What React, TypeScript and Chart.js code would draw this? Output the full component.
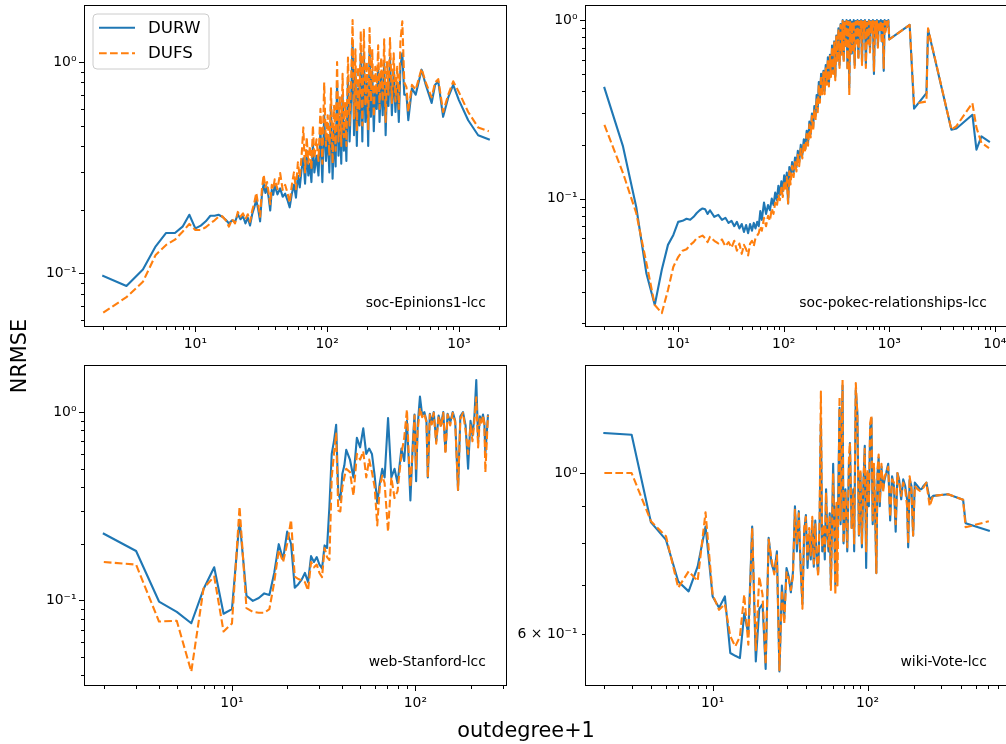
import React, { useEffect, useRef } from "react";
import { Chart, registerables } from "chart.js";

Chart.register(...registerables);

const FONT = "'DejaVu Sans', 'Liberation Sans', Arial, sans-serif";
const BLUE = "#1f77b4";
const ORANGE = "#ff7f0e";
const SERIES_NAMES = ["DURW", "DUFS"];

// ---------------- soc-Epinions1-lcc ----------------
const epinionsDegree = [
  2, 3, 4, 5, 6, 7, 8, 9, 10, 11,
  12, 13, 14, 15, 16, 17, 18, 19, 20, 21,
  22, 23, 24, 25, 26, 27, 28, 29, 30, 31,
  32, 33, 34, 35, 36, 37, 38, 39, 40, 42,
  44, 46, 48, 50, 52, 54, 56, 58, 60, 62,
  64, 66, 68, 70, 72, 74, 76, 78, 80, 83,
  86, 89, 92, 95, 98, 101, 104, 107, 110, 113,
  116, 119, 122, 125, 128, 131, 134, 137, 140, 144,
  148, 152, 156, 160, 164, 168, 172, 176, 180, 185,
  190, 195, 200, 205, 210, 215, 220, 226, 232, 238,
  244, 250, 257, 264, 271, 278, 285, 292, 300, 310,
  320, 330, 340, 350, 360, 372, 385, 400, 413, 440,
  470, 521, 560, 621, 660, 697, 759, 830, 905, 1000,
  1176, 1400, 1687,
];
const epinionsDurw = [
  0.097, 0.087, 0.104, 0.134, 0.155, 0.155, 0.166, 0.189, 0.163, 0.168,
  0.176, 0.187, 0.187, 0.189, 0.185, 0.179, 0.172, 0.178, 0.175, 0.190,
  0.180, 0.186, 0.172, 0.183, 0.168, 0.190, 0.205, 0.222, 0.200, 0.176,
  0.235, 0.265, 0.240, 0.255, 0.228, 0.198, 0.248, 0.235, 0.260, 0.236,
  0.252, 0.230, 0.238, 0.222, 0.205, 0.238, 0.262, 0.228, 0.290, 0.255,
  0.310, 0.350, 0.265, 0.380, 0.290, 0.330, 0.270, 0.410, 0.300, 0.360,
  0.290, 0.480, 0.270, 0.560, 0.340, 0.450, 0.300, 0.620, 0.280, 0.480,
  0.320, 0.800, 0.360, 0.550, 0.330, 0.700, 0.380, 0.520, 0.340, 0.850,
  0.420, 0.650, 1.250, 0.450, 0.900, 0.400, 0.750, 0.500, 1.100, 0.420,
  1.100, 0.520, 0.800, 0.400, 1.150, 0.550, 0.900, 0.470, 0.750, 0.600,
  0.950, 0.520, 0.850, 0.560, 1.000, 0.450, 0.800, 0.620, 1.050, 0.560,
  0.900, 0.580, 0.800, 0.520, 0.950, 1.100, 0.700, 0.700, 0.530, 0.750,
  0.700, 0.920, 0.780, 0.640, 0.780, 0.810, 0.550, 0.680, 0.780, 0.660,
  0.530, 0.450, 0.430,
];
const epinionsDufs = [
  0.065, 0.077, 0.091, 0.122, 0.136, 0.144, 0.157, 0.171, 0.160, 0.160,
  0.165, 0.172, 0.178, 0.185, 0.186, 0.178, 0.166, 0.180, 0.172, 0.195,
  0.185, 0.192, 0.180, 0.190, 0.175, 0.198, 0.215, 0.240, 0.210, 0.185,
  0.250, 0.292, 0.255, 0.270, 0.240, 0.212, 0.262, 0.250, 0.278, 0.250,
  0.298, 0.248, 0.262, 0.240, 0.215, 0.262, 0.300, 0.250, 0.335, 0.285,
  0.360, 0.490, 0.300, 0.440, 0.330, 0.400, 0.310, 0.500, 0.350, 0.430,
  0.340, 0.600, 0.330, 0.800, 0.400, 0.560, 0.360, 0.750, 0.330, 0.620,
  0.380, 1.000, 0.420, 0.680, 0.400, 0.880, 0.440, 0.640, 0.400, 1.050,
  0.500, 0.800, 1.580, 0.540, 1.150, 0.470, 0.950, 0.600, 1.400, 0.500,
  1.420, 0.620, 1.000, 0.480, 1.450, 0.650, 1.150, 0.550, 0.950, 0.700,
  1.200, 0.600, 1.050, 0.650, 1.280, 0.520, 1.000, 0.700, 1.300, 0.640,
  1.100, 0.650, 0.950, 0.600, 1.250, 1.560, 0.800, 0.760, 0.580, 0.780,
  0.740, 0.930, 0.800, 0.680, 0.800, 0.830, 0.580, 0.700, 0.810, 0.720,
  0.580, 0.490, 0.470,
];

// ---------------- soc-pokec-relationships-lcc ----------------
const pokecDegree = [
  2, 3, 4, 5, 6, 7, 8, 9, 10, 11,
  12, 13, 14, 15, 16, 17, 18, 19, 20, 22,
  24, 26, 28, 30, 32, 34, 36, 38, 40, 42,
  44, 46, 48, 50, 52, 54, 56, 58, 60, 62,
  65, 68, 71, 74, 77, 80, 83, 86, 89, 92,
  95, 98, 101, 104, 107, 110, 113, 116, 120, 124,
  128, 132, 136, 140, 145, 150, 155, 160, 165, 170,
  175, 180, 185, 190, 195, 200, 205, 210, 215, 220,
  226, 232, 238, 244, 250, 256, 262, 268, 274, 280,
  287, 294, 301, 308, 315, 322, 330, 338, 346, 354,
  362, 370, 378, 386, 394, 402, 410, 418, 426, 434,
  442, 450, 460, 470, 480, 490, 500, 510, 520, 530,
  540, 552, 564, 576, 588, 600, 614, 628, 642, 656,
  670, 685, 700, 716, 732, 748, 764, 780, 797, 814,
  832, 850, 868, 886, 904, 922, 940, 960, 980, 1000,
  1560, 1718, 2250, 2330, 3880, 4330, 6130, 6700, 7470, 8810,
];
const pokecDurw = [
  0.417, 0.196, 0.090, 0.038, 0.0253, 0.040, 0.055, 0.0625, 0.074, 0.075,
  0.077, 0.076, 0.079, 0.083, 0.086, 0.088, 0.087, 0.082, 0.086, 0.079,
  0.081, 0.076, 0.078, 0.073, 0.075, 0.070, 0.074, 0.068, 0.072, 0.065,
  0.071, 0.064, 0.072, 0.066, 0.073, 0.068, 0.074, 0.070, 0.085, 0.076,
  0.095, 0.082, 0.092, 0.086, 0.100, 0.092, 0.108, 0.098, 0.118, 0.105,
  0.125, 0.110, 0.135, 0.118, 0.140, 0.094, 0.150, 0.128, 0.160, 0.140,
  0.170, 0.150, 0.185, 0.160, 0.200, 0.175, 0.215, 0.190, 0.240, 0.205,
  0.270, 0.230, 0.300, 0.250, 0.330, 0.290, 0.380, 0.320, 0.450, 0.360,
  0.500, 0.400, 0.520, 0.400, 0.560, 0.450, 0.620, 0.440, 0.640, 0.500,
  0.720, 0.520, 0.760, 0.480, 0.820, 0.600, 0.900, 0.560, 0.950, 0.660,
  1.000, 0.600, 0.980, 0.720, 1.000, 0.540, 0.990, 0.420, 1.000, 0.650,
  0.980, 0.700, 1.000, 0.560, 0.990, 0.760, 1.000, 0.620, 0.990, 0.800,
  1.000, 0.580, 0.990, 0.850, 1.000, 0.560, 0.980, 0.760, 1.000, 0.680,
  0.990, 0.870, 1.000, 0.500, 0.990, 0.820, 1.000, 0.720, 0.990, 0.880,
  1.000, 0.760, 0.990, 0.520, 1.000, 0.880, 0.990, 0.920, 1.000, 0.780,
  0.940, 0.319, 0.390, 0.886, 0.243, 0.247, 0.295, 0.188, 0.223, 0.209,
];
const pokecDufs = [
  0.259, 0.139, 0.083, 0.0435, 0.0253, 0.0228, 0.0307, 0.0415, 0.047, 0.051,
  0.052, 0.055, 0.057, 0.060, 0.061, 0.062, 0.060, 0.057, 0.061, 0.058,
  0.056, 0.059, 0.054, 0.057, 0.053, 0.058, 0.051, 0.056, 0.049, 0.055,
  0.052, 0.048, 0.056, 0.058, 0.054, 0.060, 0.062, 0.064, 0.070, 0.066,
  0.078, 0.070, 0.080, 0.075, 0.088, 0.082, 0.095, 0.090, 0.105, 0.098,
  0.115, 0.102, 0.125, 0.110, 0.132, 0.094, 0.142, 0.120, 0.152, 0.132,
  0.160, 0.142, 0.176, 0.152, 0.190, 0.168, 0.205, 0.182, 0.230, 0.198,
  0.260, 0.220, 0.290, 0.240, 0.320, 0.275, 0.365, 0.305, 0.435, 0.345,
  0.490, 0.385, 0.510, 0.385, 0.545, 0.435, 0.605, 0.425, 0.630, 0.480,
  0.710, 0.500, 0.750, 0.460, 0.810, 0.580, 0.890, 0.540, 0.940, 0.640,
  0.990, 0.580, 0.970, 0.700, 0.990, 0.520, 0.980, 0.380, 0.990, 0.640,
  0.970, 0.680, 0.990, 0.540, 0.980, 0.740, 0.990, 0.600, 0.980, 0.780,
  0.990, 0.560, 0.980, 0.830, 0.990, 0.540, 0.970, 0.740, 0.990, 0.660,
  0.980, 0.850, 0.990, 0.520, 0.980, 0.800, 0.990, 0.700, 0.980, 0.860,
  0.990, 0.740, 0.980, 0.540, 0.990, 0.860, 0.980, 0.900, 0.990, 0.780,
  0.940, 0.340, 0.350, 0.900, 0.243, 0.255, 0.343, 0.250, 0.205, 0.192,
];

// ---------------- web-Stanford-lcc ----------------
const stanfordDegree = [
  2, 3, 4, 5, 6, 7, 8, 9, 10, 11,
  12, 13, 14, 15, 16, 17, 18, 19, 20, 21,
  22, 23, 24, 25, 26, 27, 28, 29, 30, 31,
  32, 33, 34, 35, 36, 37, 38, 39, 40, 41,
  42, 44, 46, 48, 50, 52, 54, 56, 58, 60,
  62, 64, 66, 68, 71, 74, 77, 80, 84, 87,
  90, 92, 94, 97, 99, 101, 103, 106, 109, 112,
  115, 117, 120, 123, 126, 130, 134, 138, 142, 146,
  150, 155, 160, 165, 171, 176, 182, 188, 194, 200,
  205, 210, 215, 220, 225, 230, 234, 238, 241, 249,
];
const stanfordDurw = [
  0.226, 0.183, 0.0987, 0.087, 0.0757, 0.115, 0.150, 0.085, 0.090, 0.268,
  0.106, 0.0995, 0.103, 0.109, 0.107, 0.140, 0.199, 0.165, 0.232, 0.200,
  0.117, 0.122, 0.129, 0.140, 0.125, 0.172, 0.160, 0.170, 0.155, 0.148,
  0.196, 0.190, 0.315, 0.600, 0.700, 0.857, 0.371, 0.342, 0.470, 0.520,
  0.630, 0.560, 0.450, 0.730, 0.650, 0.820, 0.600, 0.640, 0.600, 0.460,
  0.329, 0.420, 0.500, 0.450, 0.930, 0.450, 0.500, 0.420, 0.640, 0.550,
  0.900, 0.560, 0.340, 0.700, 0.970, 0.430, 0.850, 1.210, 0.960, 1.000,
  0.900, 0.450, 0.980, 0.880, 1.000, 0.700, 0.960, 0.850, 1.000, 0.620,
  0.980, 0.880, 1.000, 0.900, 0.386, 0.950, 1.000, 0.850, 0.500, 0.900,
  0.750, 0.950, 1.480, 0.700, 0.950, 0.900, 0.970, 0.880, 0.600, 0.960,
];
const stanfordDufs = [
  0.160, 0.155, 0.0773, 0.078, 0.0419, 0.116, 0.134, 0.0684, 0.0755, 0.315,
  0.091, 0.087, 0.086, 0.086, 0.090, 0.125, 0.185, 0.160, 0.200, 0.268,
  0.134, 0.130, 0.128, 0.125, 0.113, 0.160, 0.150, 0.155, 0.140, 0.133,
  0.190, 0.170, 0.164, 0.450, 0.600, 0.770, 0.300, 0.297, 0.400, 0.450,
  0.500, 0.480, 0.360, 0.600, 0.560, 0.620, 0.450, 0.560, 0.480, 0.400,
  0.250, 0.400, 0.460, 0.420, 0.232, 0.450, 0.350, 0.380, 0.600, 0.730,
  1.030, 0.600, 0.400, 0.650, 0.960, 0.500, 0.800, 1.050, 0.940, 0.980,
  0.880, 0.450, 0.970, 0.860, 0.990, 0.680, 0.950, 0.830, 0.990, 0.600,
  0.970, 0.850, 0.990, 0.880, 0.386, 0.920, 0.990, 0.800, 0.600, 0.850,
  0.700, 0.900, 1.200, 0.650, 0.930, 0.880, 0.960, 0.860, 0.480, 0.960,
];

// ---------------- wiki-Vote-lcc ----------------
const wikiDegree = [
  2, 3, 4, 5, 6, 7, 8, 9, 10, 11,
  12, 13, 14, 15, 16, 17, 18, 19, 20, 21,
  22, 23, 24, 25, 26, 27, 28, 29, 30, 31,
  32, 33, 34, 35, 36, 37, 38, 39, 40, 41,
  42, 43, 44, 45, 46, 47, 48, 49, 50, 51,
  52, 53, 54, 55, 56, 57, 58, 60, 62, 63,
  64, 66, 67, 69, 70, 72, 74, 76, 77, 79,
  81, 82, 84, 86, 88, 90, 92, 94, 96, 98,
  100, 102, 104, 106, 108, 110, 112, 114, 116, 118,
  120, 123, 126, 129, 132, 136, 140, 144, 148, 152,
  156, 160, 165, 170, 175, 180, 183, 187, 192, 197,
  202, 210, 218, 223, 230, 240, 252, 265, 331, 414,
  430, 607,
];
const wikiDurw = [
  1.135, 1.129, 0.855, 0.809, 0.709, 0.687, 0.743, 0.844, 0.676, 0.652,
  0.676, 0.565, 0.560, 0.556, 0.641, 0.600, 0.844, 0.550, 0.650, 0.660,
  0.537, 0.814, 0.750, 0.730, 0.780, 0.533, 0.700, 0.630, 0.740, 0.720,
  0.685, 0.730, 0.900, 0.780, 0.886, 0.740, 0.660, 0.830, 0.875, 0.740,
  0.820, 0.760, 0.860, 0.743, 0.860, 0.760, 0.730, 0.840, 1.180, 0.780,
  0.840, 0.760, 0.950, 0.820, 0.780, 0.880, 0.700, 1.030, 0.700, 0.900,
  0.800, 1.230, 0.850, 1.320, 0.800, 0.950, 0.780, 1.050, 1.100, 0.840,
  0.950, 0.780, 1.300, 1.210, 0.820, 1.000, 0.790, 0.960, 1.090, 0.740,
  1.000, 0.900, 1.150, 1.190, 0.850, 1.000, 0.880, 0.728, 1.000, 1.050,
  0.900, 1.020, 0.950, 0.980, 1.000, 1.030, 0.860, 0.990, 0.960, 0.830,
  1.000, 0.980, 0.920, 0.980, 0.960, 0.920, 0.790, 0.980, 0.960, 0.820,
  0.970, 0.960, 0.950, 0.950, 0.960, 0.970, 0.920, 0.930, 0.935, 0.919,
  0.853, 0.833,
];
const wikiDufs = [
  1.000, 1.000, 0.858, 0.818, 0.695, 0.732, 0.710, 0.883, 0.680, 0.648,
  0.660, 0.596, 0.577, 0.595, 0.680, 0.580, 0.840, 0.570, 0.720, 0.680,
  0.545, 0.810, 0.760, 0.725, 0.770, 0.535, 0.690, 0.620, 0.730, 0.715,
  0.690, 0.720, 0.890, 0.800, 0.880, 0.750, 0.650, 0.840, 0.870, 0.760,
  0.840, 0.770, 0.870, 0.750, 0.850, 0.770, 0.720, 0.860, 1.295, 0.790,
  0.850, 0.780, 0.940, 0.830, 0.790, 0.870, 0.690, 1.000, 0.680, 0.910,
  0.700, 1.275, 0.860, 1.345, 0.800, 0.940, 0.790, 1.060, 1.100, 0.840,
  0.940, 0.800, 1.330, 1.200, 0.820, 1.010, 0.800, 0.970, 1.080, 0.780,
  1.010, 0.910, 1.170, 1.200, 0.860, 1.030, 0.890, 0.728, 1.010, 1.060,
  0.910, 1.030, 0.940, 0.990, 1.000, 1.020, 0.870, 0.980, 0.970, 0.850,
  1.000, 0.970, 0.930, 0.970, 0.950, 0.900, 0.800, 0.990, 0.950, 0.820,
  0.960, 0.950, 0.945, 0.950, 0.955, 0.970, 0.900, 0.930, 0.935, 0.919,
  0.842, 0.858,
];

// ---------------- tick labels ----------------
const decadeTickValues = [0.01, 0.1, 1, 10, 100, 1000, 10000];
const decadeTickLabels = ["10⁻²", "10⁻¹", "10⁰", "10¹", "10²", "10³", "10⁴"];
const wikiYTickValues = [0.6, 1];
const wikiYTickLabels = ["6 × 10⁻¹", "10⁰"];

const AXIS_X_LABEL = "outdegree+1";
const AXIS_Y_LABEL = "NRMSE";

type Panel = {
  key: string;
  title: string;
  degree: number[];
  durw: number[];
  dufs: number[];
  xLog: [number, number];
  yLog: [number, number];
  yTickValues: number[];
  yTickLabels: string[];
  legend: boolean;
  left: number;
  top: number;
  yWidth: number;
  xHeight: number;
  padRight: number;
};

const CW = 520;
const CH = 360;

const panels: Panel[] = [
  {
    key: "epinions", title: "soc-Epinions1-lcc",
    degree: epinionsDegree, durw: epinionsDurw, dufs: epinionsDufs,
    xLog: [0.155, 3.365], yLog: [-1.255, 0.27],
    yTickValues: decadeTickValues, yTickLabels: decadeTickLabels,
    legend: true, left: 0, top: 0, yWidth: 84, xHeight: 33, padRight: 13,
  },
  {
    key: "pokec", title: "soc-pokec-relationships-lcc",
    degree: pokecDegree, durw: pokecDurw, dufs: pokecDufs,
    xLog: [0.117, 4.125], yLog: [-1.72, 0.085],
    yTickValues: decadeTickValues, yTickLabels: decadeTickLabels,
    legend: false, left: 500, top: 0, yWidth: 85, xHeight: 33, padRight: 12,
  },
  {
    key: "stanford", title: "web-Stanford-lcc",
    degree: stanfordDegree, durw: stanfordDurw, dufs: stanfordDufs,
    xLog: [0.193, 2.5], yLog: [-1.454, 0.25],
    yTickValues: decadeTickValues, yTickLabels: decadeTickLabels,
    legend: false, left: 0, top: 360, yWidth: 84, xHeight: 34, padRight: 13,
  },
  {
    key: "wiki", title: "wiki-Vote-lcc",
    degree: wikiDegree, durw: wikiDurw, dufs: wikiDufs,
    xLog: [0.176, 2.907], yLog: [-0.2934, 0.1488],
    yTickValues: wikiYTickValues, yTickLabels: wikiYTickLabels,
    legend: false, left: 500, top: 360, yWidth: 85, xHeight: 34, padRight: 12,
  },
];

function buildLogTicks(min: number, max: number) {
  const ticks: { value: number; major: boolean }[] = [];
  const e0 = Math.floor(Math.log10(min));
  const e1 = Math.ceil(Math.log10(max));
  for (let e = e0; e <= e1; e++) {
    for (let k = 1; k <= 9; k++) {
      const v = k * Math.pow(10, e);
      if (v >= min && v <= max) ticks.push({ value: v, major: k === 1 });
    }
  }
  return ticks;
}

function labelFor(values: number[], labels: string[], v: number) {
  const i = values.findIndex((t) => Math.abs(t - v) <= 1e-9 * Math.max(1, t));
  return i >= 0 ? labels[i] : "";
}

const decoPlugin = {
  id: "panelDeco",
  afterDraw(chart: any, _args: any, opts: any) {
    const { ctx, chartArea: a } = chart;
    const xs = chart.scales.x;
    const ys = chart.scales.y;
    ctx.save();
    ctx.strokeStyle = "#000";
    ctx.lineWidth = 1;
    // tick marks
    ctx.beginPath();
    for (const t of xs.ticks) {
      const px = Math.round(xs.getPixelForValue(t.value)) + 0.5;
      const len = t.major ? 5 : 3;
      ctx.moveTo(px, a.bottom);
      ctx.lineTo(px, a.bottom + len);
    }
    for (const t of ys.ticks) {
      const py = Math.round(ys.getPixelForValue(t.value)) + 0.5;
      const len = t.major ? 5 : 3;
      ctx.moveTo(a.left, py);
      ctx.lineTo(a.left - len, py);
    }
    ctx.stroke();
    // spines
    ctx.strokeRect(Math.round(a.left) + 0.5, Math.round(a.top) + 0.5,
      Math.round(a.right) - Math.round(a.left) - 1, Math.round(a.bottom) - Math.round(a.top) - 1);
    // panel title
    const w = a.right - a.left;
    const h = a.bottom - a.top;
    ctx.fillStyle = "#000";
    ctx.font = `13.9px ${FONT}`;
    ctx.textAlign = "right";
    ctx.textBaseline = "alphabetic";
    ctx.fillText(opts.title, a.left + 0.95 * w, a.bottom - 0.05 * h - 4);
    // legend
    if (opts.legend) {
      const bx = a.left + 9;
      const by = a.top + 9;
      const bw = 116;
      const bh = 55;
      const r = 4;
      ctx.beginPath();
      ctx.moveTo(bx + r, by);
      ctx.lineTo(bx + bw - r, by);
      ctx.arcTo(bx + bw, by, bx + bw, by + r, r);
      ctx.lineTo(bx + bw, by + bh - r);
      ctx.arcTo(bx + bw, by + bh, bx + bw - r, by + bh, r);
      ctx.lineTo(bx + r, by + bh);
      ctx.arcTo(bx, by + bh, bx, by + bh - r, r);
      ctx.lineTo(bx, by + r);
      ctx.arcTo(bx, by, bx + r, by, r);
      ctx.closePath();
      ctx.fillStyle = "rgba(255,255,255,0.8)";
      ctx.fill();
      ctx.strokeStyle = "#cccccc";
      ctx.lineWidth = 1;
      ctx.stroke();
      chart.data.datasets.forEach((ds: any, i: number) => {
        const ly = by + 13.7 + i * 25.6;
        ctx.beginPath();
        ctx.strokeStyle = ds.borderColor;
        ctx.lineWidth = ds.borderWidth;
        ctx.setLineDash(ds.borderDash || []);
        ctx.moveTo(bx + 6, ly);
        ctx.lineTo(bx + 42, ly);
        ctx.stroke();
        ctx.setLineDash([]);
        ctx.fillStyle = "#000";
        ctx.font = `16.7px ${FONT}`;
        ctx.textAlign = "left";
        ctx.textBaseline = "middle";
        ctx.fillText(ds.label, bx + 55, ly + 0.5);
      });
    }
    ctx.restore();
  },
};

function PanelChart({ spec }: { spec: Panel }) {
  const ref = useRef<HTMLCanvasElement | null>(null);
  useEffect(() => {
    const canvas = ref.current;
    if (!canvas) return;
    const xMin = Math.pow(10, spec.xLog[0]);
    const xMax = Math.pow(10, spec.xLog[1]);
    const yMin = Math.pow(10, spec.yLog[0]);
    const yMax = Math.pow(10, spec.yLog[1]);
    const tickFont = { family: FONT, size: 13.9 };
    const chart = new Chart(canvas, {
      type: "line",
      data: {
        datasets: [
          {
            label: SERIES_NAMES[0],
            data: spec.degree.map((x, i) => ({ x, y: spec.durw[i] })),
            borderColor: BLUE,
            backgroundColor: BLUE,
            borderWidth: 2.1,
            pointRadius: 0,
            tension: 0,
            fill: false,
            order: 2,
            borderJoinStyle: "round",
            borderCapStyle: "square",
          },
          {
            label: SERIES_NAMES[1],
            data: spec.degree.map((x, i) => ({ x, y: spec.dufs[i] })),
            borderColor: ORANGE,
            backgroundColor: ORANGE,
            borderWidth: 2.1,
            borderDash: [7.7, 3.3],
            pointRadius: 0,
            tension: 0,
            fill: false,
            order: 1,
            borderJoinStyle: "round",
            borderCapStyle: "butt",
          },
        ],
      },
      options: {
        responsive: false,
        animation: false,
        events: [],
        devicePixelRatio: 1,
        layout: { autoPadding: false, padding: { left: 0, top: 5, right: spec.padRight, bottom: 0 } },
        plugins: {
          legend: { display: false },
          tooltip: { enabled: false },
          panelDeco: { title: spec.title, legend: spec.legend },
        } as any,
        scales: {
          x: {
            type: "logarithmic",
            min: xMin,
            max: xMax,
            bounds: "data",
            afterBuildTicks: (scale: any) => {
              scale.ticks = buildLogTicks(xMin, xMax);
            },
            afterFit: (scale: any) => {
              scale.height = spec.xHeight;
              scale.paddingLeft = 0;
              scale.paddingRight = 0;
              scale.paddingTop = 0;
              scale.paddingBottom = 0;
            },
            grid: { display: true, drawOnChartArea: false, drawTicks: true, tickLength: 5, tickColor: "rgba(0,0,0,0)" },
            border: { display: false },
            ticks: {
              autoSkip: false,
              maxRotation: 0,
              minRotation: 0,
              padding: 4,
              color: "#000",
              font: tickFont,
              callback: (_v: any, i: number, ticks: any[]) =>
                labelFor(decadeTickValues, decadeTickLabels, ticks[i].value),
            },
          },
          y: {
            type: "logarithmic",
            min: yMin,
            max: yMax,
            bounds: "data",
            afterBuildTicks: (scale: any) => {
              scale.ticks = buildLogTicks(yMin, yMax);
            },
            afterFit: (scale: any) => {
              scale.width = spec.yWidth;
              scale.paddingLeft = 0;
              scale.paddingRight = 0;
              scale.paddingTop = 0;
              scale.paddingBottom = 0;
            },
            grid: { display: true, drawOnChartArea: false, drawTicks: true, tickLength: 5, tickColor: "rgba(0,0,0,0)" },
            border: { display: false },
            ticks: {
              autoSkip: false,
              padding: 2.5,
              color: "#000",
              font: tickFont,
              callback: (_v: any, i: number, ticks: any[]) =>
                labelFor(spec.yTickValues, spec.yTickLabels, ticks[i].value),
            },
          },
        },
      } as any,
      plugins: [decoPlugin as any],
    });
    return () => chart.destroy();
  }, [spec]);
  return (
    <canvas
      ref={ref}
      width={CW}
      height={CH}
      style={{ position: "absolute", left: spec.left, top: spec.top, width: CW, height: CH }}
    />
  );
}

export default function App() {
  return (
    <div
      style={{
        position: "absolute",
        left: 0,
        top: 0,
        width: 1006,
        height: 744,
        overflow: "hidden",
        background: "#ffffff",
        fontFamily: FONT,
        color: "#000",
      }}
    >
      {panels.map((p) => (
        <PanelChart key={p.key} spec={p} />
      ))}
      <div
        style={{
          position: "absolute",
          left: -81,
          top: 344,
          width: 200,
          height: 24,
          lineHeight: "24px",
          fontSize: 20.8,
          textAlign: "center",
          transform: "rotate(-90deg)",
          whiteSpace: "nowrap",
        }}
      >
        {AXIS_Y_LABEL}
      </div>
      <div
        style={{
          position: "absolute",
          left: 326,
          top: 718,
          width: 400,
          height: 24,
          lineHeight: "24px",
          fontSize: 20.8,
          textAlign: "center",
          whiteSpace: "nowrap",
        }}
      >
        {AXIS_X_LABEL}
      </div>
    </div>
  );
}
